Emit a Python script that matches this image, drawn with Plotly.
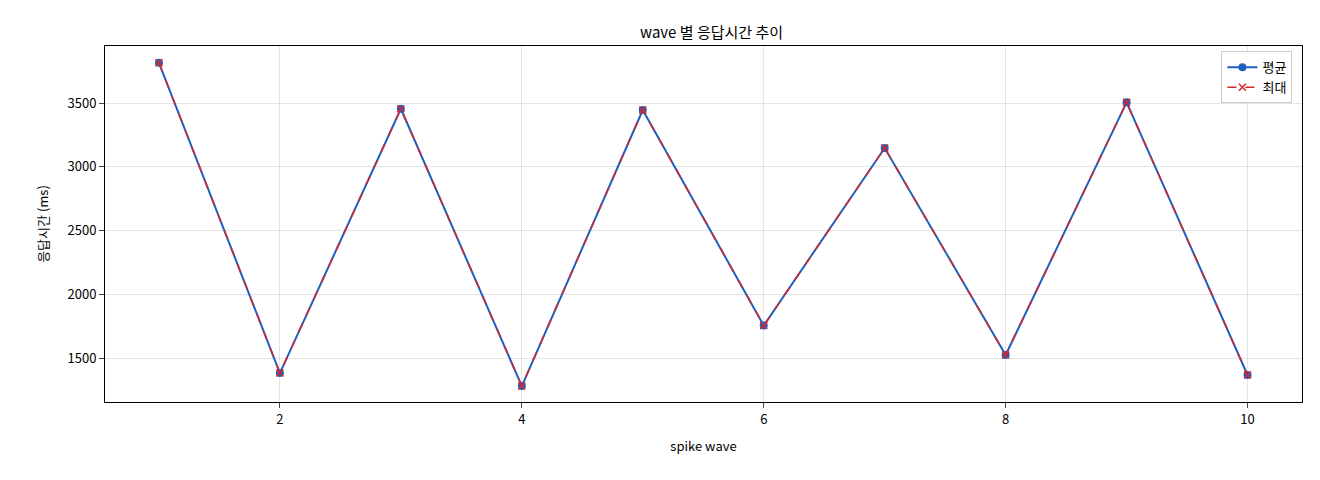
import plotly.graph_objects as go

waves = [1, 2, 3, 4, 5, 6, 7, 8, 9, 10]
avg_ms = [3815, 1382, 3455, 1280, 3445, 1755, 3147, 1524, 3505, 1367]
max_ms = [3815, 1382, 3455, 1280, 3445, 1755, 3147, 1524, 3505, 1367]

fig = go.Figure()
fig.add_trace(go.Scatter(x=waves, y=avg_ms, name="평균", mode="lines+markers",
                         line=dict(color="#1f5fbf", width=2),
                         marker=dict(symbol="circle", size=8, color="#1f5fbf")))
fig.add_trace(go.Scatter(x=waves, y=max_ms, name="최대", mode="lines+markers",
                         line=dict(color="#d62728", width=1.5, dash="dash"),
                         marker=dict(symbol="x-thin", size=7, color="#d62728",
                                     line=dict(color="#d62728", width=1.5))))
axis = dict(showline=True, linecolor="black", mirror=True, ticks="outside",
            gridcolor="rgba(0,0,0,0.1)", zeroline=False, tickfont=dict(size=13))
fig.update_layout(
    width=1320, height=480, plot_bgcolor="white", paper_bgcolor="white",
    font=dict(family="Noto Sans CJK KR", color="black", size=13),
    title=dict(text="wave 별 응답시간 추이", x=0.533, y=0.96, xanchor="center", font=dict(size=15)),
    margin=dict(l=97, r=26, t=38, b=86),
    xaxis=dict(axis, range=[0.554, 10.45], tickvals=[2, 4, 6, 8, 10], title=dict(text="spike wave", font=dict(size=13))),
    yaxis=dict(axis, range=[1155, 3947], tickvals=[1500, 2000, 2500, 3000, 3500], title=dict(text="응답시간 (ms)", font=dict(size=13))),
    legend=dict(x=0.992, y=0.985, xanchor="right", yanchor="top", bordercolor="#cccccc",
                borderwidth=1, bgcolor="white", font=dict(size=13)),
)
fig.write_html("out.html")
